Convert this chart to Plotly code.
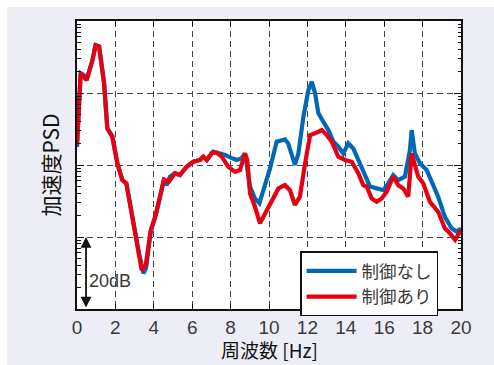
import plotly.graph_objects as go

# Frequency [Hz] and acceleration PSD [dB] for each case
freq_off = [0, 0.19, 0.35, 0.5, 0.8, 0.97, 1.15, 1.41, 1.58, 1.84, 2.1, 2.36, 2.57, 2.97,
            3.23, 3.46, 3.6, 3.84, 4.1, 4.53, 4.67, 4.84, 5.1, 5.36, 5.71, 6.06, 6.41,
            6.58, 6.76, 7.1, 7.4, 7.71, 8.06, 8.32, 8.58, 8.75, 9.01, 9.27, 9.5, 9.79,
            10.05, 10.4, 10.83, 11.0, 11.18, 11.35, 11.53, 11.79, 12.05, 12.23, 12.4,
            12.57, 12.83, 13.09, 13.35, 13.61, 13.87, 14.13, 14.39, 14.65, 15.0, 15.26,
            15.61, 15.96, 16.21, 16.47, 16.73, 17.08, 17.34, 17.43, 17.6, 17.86, 18.21,
            18.47, 18.81, 19.16, 19.51, 19.77, 20.0]
psd_off_db = [45.0, 65.5, 65.0, 63.6, 69.0, 73.3, 72.9, 62.7, 50.2, 47.9, 40.5, 35.8, 34.9, 22.9,
              15.5, 9.9, 11.5, 21.5, 26.0, 36.0, 34.4, 36.8, 37.7, 37.2, 39.5, 40.9, 41.4,
              42.3, 41.4, 43.7, 43.3, 42.8, 41.9, 41.4, 41.9, 43.2, 34.0, 30.7, 29.4, 34.0,
              39.0, 46.5, 47.1, 46.0, 43.2, 40.0, 43.2, 53.4, 60.8, 63.1, 59.9,
              54.4, 52.0, 49.7, 46.5, 45.1, 43.2, 46.0, 44.6, 41.4, 36.8, 34.0,
              33.5, 33.0, 34.9, 37.2, 35.8, 36.8, 44.2, 49.7, 43.2, 40.5, 38.6,
              35.4, 31.2, 25.6, 22.4, 21.5, 22.4]

freq_on = [0, 0.19, 0.5, 0.8, 0.97, 1.15, 1.41, 1.58, 1.84, 2.1, 2.36, 2.57, 2.97, 3.23,
           3.37, 3.58, 3.84, 4.1, 4.53, 4.79, 5.1, 5.36, 5.71, 6.06, 6.41, 6.58, 6.76,
           7.02, 7.28, 7.54, 7.88, 8.23, 8.49, 8.75, 8.87, 9.01, 9.27, 9.53, 9.79, 10.14,
           10.49, 10.83, 11.09, 11.35, 11.61, 11.88, 12.14, 12.4, 12.75, 13.01, 13.27,
           13.61, 13.96, 14.31, 14.65, 14.91, 15.09, 15.35, 15.61, 15.87, 16.13, 16.47,
           16.73, 16.99, 17.25, 17.43, 17.6, 17.77, 18.03, 18.38, 18.81, 19.16, 19.43,
           19.69, 20.0]
psd_on_db = [45.6, 65.5, 63.6, 69.0, 73.3, 72.9, 62.7, 50.2, 47.9, 40.5, 35.8, 34.9, 22.9, 15.5,
             10.8, 12.2, 21.9, 26.1, 36.0, 35.4, 37.7, 37.2, 39.5, 40.9, 41.4, 42.3, 41.4,
             43.4, 43.4, 42.3, 39.5, 38.1, 38.6, 43.2, 41.4, 32.1, 28.4, 23.8, 26.6, 30.3,
             33.5, 34.4, 33.0, 28.9, 31.2, 40.5, 48.3, 48.8, 49.7, 48.3, 46.5,
             42.3, 41.4, 40.9, 37.7, 34.4, 34.0, 30.7, 29.8, 30.7, 32.6, 36.8,
             34.4, 33.5, 31.2, 43.2, 39.5, 36.8, 34.9, 29.8, 27.0, 22.4, 21.0,
             19.2, 21.9]

x_ticks = [0, 2, 4, 6, 8, 10, 12, 14, 16, 18, 20]
series_names = ["制御なし", "制御あり"]
series_colors = ["#0068b7", "#e60012"]
x_title = "周波数 [Hz]"
y_title = "加速度PSD"


def db_to_amp(values):
    # 20 dB per decade
    return [10 ** (v / 20.0) for v in values]


# log-axis minor tick positions (2..9 within each decade)
minor_vals = [m * 10 ** k for k in range(4) for m in range(2, 10)]

cjk_font = "Noto Sans CJK JP, Noto Sans, sans-serif"
num_font = "Liberation Sans, Arial, sans-serif"
text_color = "#3a3a3a"

fig = go.Figure()
fig.add_trace(go.Scatter(x=freq_off, y=db_to_amp(psd_off_db), mode="lines",
                         name=series_names[0],
                         line=dict(color=series_colors[0], width=4.2)))
fig.add_trace(go.Scatter(x=freq_on, y=db_to_amp(psd_on_db), mode="lines",
                         name=series_names[1],
                         line=dict(color=series_colors[1], width=4.2)))

grid_style = dict(showgrid=True, gridcolor="#444444", griddash="6px,4px", gridwidth=1.2)

fig.update_xaxes(range=[0, 20], tickvals=x_ticks, ticktext=[str(t) for t in x_ticks],
                 ticks="inside", ticklen=5, tickwidth=1.2, tickcolor="#111111",
                 showline=True, linecolor="#111111", linewidth=2, mirror="ticks",
                 zeroline=False, automargin=False,
                 tickfont=dict(size=19, color=text_color, family=num_font),
                 **grid_style)

fig.update_yaxes(type="log", range=[0, 4], dtick=1, showticklabels=False,
                 ticks="inside", ticklen=7, tickwidth=1.2, tickcolor="#111111",
                 minor=dict(tickmode="array", tickvals=minor_vals, ticks="inside", ticklen=3.5,
                            tickwidth=1, tickcolor="#111111", showgrid=False),
                 showline=True, linecolor="#111111", linewidth=2, mirror="ticks",
                 zeroline=False, automargin=False,
                 title=dict(text=y_title, font=dict(size=21, color="#111111", family=cjk_font),
                            standoff=10),
                 **grid_style)

# x-axis title placed below the tick labels
fig.add_annotation(x=0.5, y=-0.139, xref="paper", yref="paper", text=x_title,
                   showarrow=False, xanchor="center", yanchor="middle",
                   font=dict(size=19, color="#111111", family=cjk_font))

# 20 dB scale bar
fig.add_annotation(x=0.47, y=1, xref="x", yref="y", ax=0.47, ay=0, axref="x", ayref="y",
                   showarrow=True, arrowhead=2, startarrowhead=2, arrowside="end+start",
                   arrowsize=1.2, arrowwidth=1.8, arrowcolor="#111111", text="")
fig.add_annotation(x=1.72, y=0.39, xref="x", yref="y", text="20dB", showarrow=False,
                   font=dict(size=18, color=text_color, family=num_font))

# white frame strips outside the tinted panel
fig.add_shape(type="rect", xref="paper", yref="paper", x0=-0.21, x1=-0.1823, y0=-0.25, y1=1.1,
              fillcolor="white", line=dict(width=0), layer="below")
fig.add_shape(type="rect", xref="paper", yref="paper", x0=-0.21, x1=1.1, y0=1.0486, y1=1.1,
              fillcolor="white", line=dict(width=0), layer="below")

fig.update_layout(
    width=494, height=365,
    margin=dict(l=77, r=33, t=21, b=56),
    paper_bgcolor="#ededf6", plot_bgcolor="white",
    font=dict(family=cjk_font, color=text_color),
    legend=dict(x=0.581, y=0.2, xanchor="left", yanchor="top",
                bgcolor="white", bordercolor="#111111", borderwidth=1.5,
                font=dict(size=17.5, color=text_color, family=cjk_font),
                itemwidth=50, tracegroupgap=0, traceorder="normal"),
)

fig.write_html("out.html")
